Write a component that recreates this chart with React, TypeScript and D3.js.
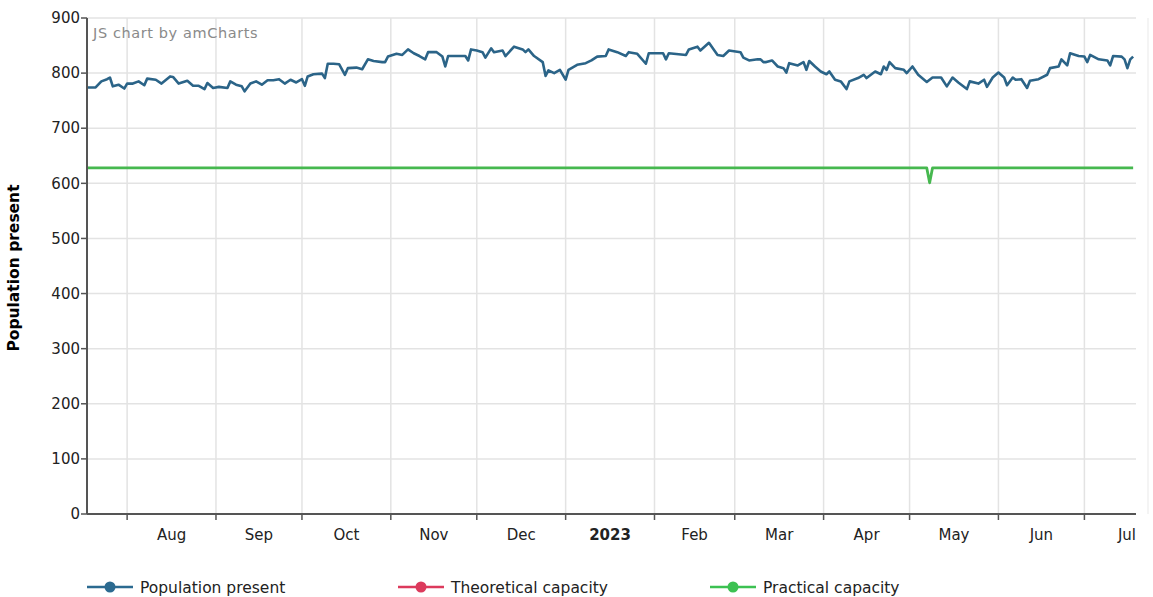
import React from "react";
import * as d3 from "d3";

const START_DATE = "2022-07-18";
const END_DATE = "2023-07-19";

// day offsets from START_DATE and population values
const populationDays = [
  0, 3, 5, 7, 8, 9, 11, 13, 14, 16, 18, 20, 21, 24, 26, 29, 30, 32, 35, 37, 39, 41, 42, 44, 46, 49, 50, 52, 54, 55,
  57, 59, 61, 63, 65, 67, 69, 71, 73, 75, 76, 77, 79, 82, 83, 84, 86, 88, 90, 91, 94, 96, 98, 100, 103, 104, 105, 108,
  110, 112, 114, 116, 118, 119, 122, 124, 125, 126, 130, 132, 133, 134, 136, 138, 139, 141, 142, 145, 146, 149, 152,
  153, 154, 156, 159, 160, 161, 163, 165, 167, 168, 171, 174, 176, 178, 181, 182, 185, 188, 189, 192, 195, 196, 201,
  202, 203, 209, 210, 213, 214, 217, 220, 222, 224, 228, 229, 231, 234, 235, 236, 237, 239, 241, 243, 244, 245, 248,
  250, 251, 252, 254, 256, 258, 259, 261, 263, 265, 266, 269, 271, 272, 275, 277, 278, 279, 280, 282, 285, 286, 288,
  290, 293, 295, 298, 300, 302, 304, 307, 308, 311, 313, 314, 316, 318, 320, 321, 323, 324, 326, 328, 329, 332, 335,
  336, 339, 340, 342, 343, 346, 348, 349, 350, 353, 356, 357, 358, 361, 362, 363, 364, 365,
];
const populationValues = [
  774, 774, 785, 789, 792, 776, 779, 772, 781, 781, 785, 778, 790, 788, 781, 794, 793, 781, 786, 777, 777, 771, 782,
  773, 775, 773, 785, 779, 776, 767, 781, 785, 779, 787, 787, 789, 781, 788, 783, 789, 777, 794, 798, 799, 791, 817,
  817, 816, 797, 809, 810, 807, 825, 822, 820, 820, 830, 835, 833, 843, 836, 831, 825, 838, 838, 830, 812, 831, 831,
  831, 823, 843, 841, 838, 828, 845, 838, 841, 831, 848, 843, 838, 843, 831, 820, 795, 805, 800, 806, 788, 806, 815,
  818, 823, 830, 831, 843, 838, 831, 838, 835, 817, 836, 836, 825, 836, 833, 843, 848, 841, 855, 833, 831, 841, 838,
  828, 823, 825, 825, 820, 820, 823, 812, 809, 801, 818, 814, 820, 806, 822, 812, 803, 798, 803, 788, 785, 771, 785,
  791, 797, 791, 803, 798, 812, 806, 820, 809, 806, 800, 812, 797, 784, 792, 792, 776, 792, 783, 771, 785, 781, 788,
  775, 792, 801, 792, 778, 792, 788, 789, 773, 786, 789, 797, 809, 812, 825, 814, 836, 831, 830, 820, 833, 825, 823,
  814, 831, 830, 825, 809, 825, 830,
];

const practicalDays = [0, 293, 294, 295, 365];
const practicalValues = [628, 628, 601, 628, 628];

const theoreticalDays: number[] = [];
const theoreticalValues: number[] = [];

const yTicks = [0, 100, 200, 300, 400, 500, 600, 700, 800, 900];

const legendItems = [
  { name: "Population present", color: "#2b6a90" },
  { name: "Theoretical capacity", color: "#dc3a5c" },
  { name: "Practical capacity", color: "#3cc152" },
];

const W = 1153;
const H = 597;
const M = { left: 87, right: 1136, top: 18, bottom: 514 };
const FONT = "'DejaVu Sans', Verdana, sans-serif";

export default function App() {
  const start = d3.timeParse("%Y-%m-%d")(START_DATE)!;
  const end = d3.timeParse("%Y-%m-%d")(END_DATE)!;
  const x = d3.scaleTime().domain([start, end]).range([M.left, M.right]);
  const y = d3.scaleLinear().domain([0, 900]).range([M.bottom, M.top]);

  const toPts = (days: number[], vals: number[]) =>
    days.map((d, i) => ({ date: d3.timeDay.offset(start, d), v: vals[i] }));

  const line = d3
    .line<{ date: Date; v: number }>()
    .x((d) => x(d.date))
    .y((d) => y(d.v));

  const pop = toPts(populationDays, populationValues);
  const prac = toPts(practicalDays, practicalValues);
  const theo = toPts(theoreticalDays, theoreticalValues);

  const months = d3.timeMonth.range(d3.timeMonth.ceil(start), end);
  const fmt = (d: Date) => (d.getMonth() === 0 ? d3.timeFormat("%Y")(d) : d3.timeFormat("%b")(d));

  const legendX = [87, 398, 710];

  return (
    <svg
      width={W}
      height={H}
      style={{ position: "absolute", left: 0, top: 0, background: "#fff" }}
      fontFamily={FONT}
    >
      <rect width={W} height={H} fill="#fff" />
      {/* grid */}
      {yTicks.map((t) => (
        <line key={"gy" + t} x1={M.left} x2={M.right} y1={y(t)} y2={y(t)} stroke="#e3e3e3" strokeWidth={1.5} />
      ))}
      {months.map((m) => (
        <line key={"gx" + +m} x1={x(m)} x2={x(m)} y1={M.top} y2={M.bottom} stroke="#e3e3e3" strokeWidth={1.5} />
      ))}
      <line x1={1148} x2={1148} y1={18} y2={514} stroke="#f0f0f0" strokeWidth={1.5} />

      <text x={93} y={38} fontSize={14.5} fill="#8a8a8a" letterSpacing={0.6}>
        JS chart by amCharts
      </text>

      {/* series */}
      {theo.length > 1 && <path d={line(theo)!} fill="none" stroke="#dc3a5c" strokeWidth={2} />}
      <path d={line(prac)!} fill="none" stroke="#46b84f" strokeWidth={2.8} strokeLinejoin="round" />
      <path d={line(pop)!} fill="none" stroke="#2b6488" strokeWidth={2.6} strokeLinejoin="round" />

      {/* axes */}
      <line x1={M.left} x2={M.left} y1={M.top} y2={M.bottom} stroke="#555" strokeWidth={2} />
      <line x1={M.left} x2={M.right} y1={M.bottom} y2={M.bottom} stroke="#555" strokeWidth={2} />
      {yTicks.map((t) => (
        <g key={"yt" + t}>
          <line x1={M.left - 6} x2={M.left} y1={y(t)} y2={y(t)} stroke="#555" strokeWidth={1.5} />
          <text x={80} y={y(t)} dy="0.35em" textAnchor="end" fontSize={15} fill="#222">
            {t}
          </text>
        </g>
      ))}
      {months.map((m, i) => {
        const next = i + 1 < months.length ? months[i + 1] : d3.timeMonth.offset(m, 1);
        const mid = (x(m) + x(next)) / 2;
        return (
          <g key={"xt" + +m}>
            <line x1={x(m)} x2={x(m)} y1={M.bottom} y2={M.bottom + 6} stroke="#555" strokeWidth={1.5} />
            <text
              x={Math.min(mid, 1127)}
              y={540}
              textAnchor="middle"
              fontSize={15}
              fill="#222"
              fontWeight={m.getMonth() === 0 ? "bold" : "normal"}
            >
              {fmt(m)}
            </text>
          </g>
        );
      })}

      <text
        transform={`translate(19,${(M.top + M.bottom) / 2 + 2}) rotate(-90)`}
        textAnchor="middle"
        fontSize={15.5}
        fontWeight="bold"
        fill="#000"
      >
        Population present
      </text>

      {/* legend */}
      {legendItems.map((it, i) => (
        <g key={it.name} transform={`translate(${legendX[i]},587)`}>
          <line x1={0} x2={46} y1={0} y2={0} stroke={it.color} strokeWidth={2.5} />
          <circle cx={23} cy={0} r={5.5} fill={it.color} />
          <text x={53} y={0} dy="0.38em" fontSize={15.5} fill="#222">
            {it.name}
          </text>
        </g>
      ))}
    </svg>
  );
}
